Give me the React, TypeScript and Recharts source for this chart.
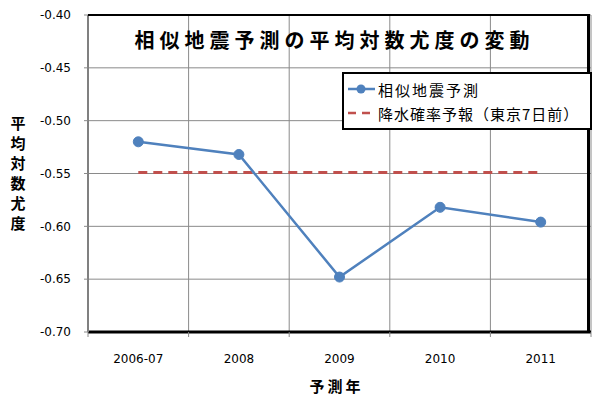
import React from "react";
import {
  LineChart,
  Line,
  XAxis,
  YAxis,
  CartesianGrid,
} from "recharts";

const years = ["2006-07", "2008", "2009", "2010", "2011"];
const similarQuake = [-0.52, -0.532, -0.648, -0.582, -0.596];
const rainForecast = [-0.549, -0.549, -0.549, -0.549, -0.549];
const yTicks = [-0.7, -0.65, -0.6, -0.55, -0.5, -0.45, -0.4];

const seriesNames = ["相似地震予測", "降水確率予報（東京7日前）"];
const title = "相似地震予測の平均対数尤度の変動";
const yLabel = "平均対数尤度";
const xLabel = "予測年";

const data = years.map((y, i) => ({
  year: y,
  quake: similarQuake[i],
  rain: rainForecast[i],
}));

const BLUE = "#4F81BD";
const RED = "#C0504D";
const GRID = "#8a8a8a";
const CJK = "'Noto Sans CJK JP', sans-serif";
const NUM = "'DejaVu Sans', sans-serif";

// plot area: 88..591 x 15..332
const PLOT_W = 503;
const HALF = PLOT_W / 10;

function XTick(props: any) {
  const { x, y, payload, index } = props;
  return (
    <g>
      <line x1={x - HALF} x2={x - HALF} y1={y} y2={y + 5} stroke={GRID} />
      {index === years.length - 1 && (
        <line x1={x + HALF} x2={x + HALF} y1={y} y2={y + 5} stroke={GRID} />
      )}
      <text x={x} y={y + 31} textAnchor="middle" fontSize={12} fontFamily={NUM} fill="#000">
        {payload.value}
      </text>
    </g>
  );
}

function YLabel(props: any) {
  const vb = props.viewBox || { x: 0, y: 15, width: 88, height: 317 };
  const chars = yLabel.split("");
  const cy = vb.y + vb.height / 2;
  const step = 20;
  const start = cy - ((chars.length - 1) * step) / 2;
  return (
    <text fontSize={15} fontWeight="bold" fontFamily={CJK} fill="#000" textAnchor="middle">
      {chars.map((c, i) => (
        <tspan key={i} x={18} y={start + i * step + 5}>
          {c}
        </tspan>
      ))}
    </text>
  );
}

function XLabel(props: any) {
  const vb = props.viewBox || { x: 88, y: 332, width: 503 };
  return (
    <text
      x={vb.x + vb.width / 2 - 3}
      y={392}
      textAnchor="middle"
      fontSize={15}
      fontWeight="bold"
      fontFamily={CJK}
      letterSpacing={3}
      fill="#000"
    >
      {xLabel}
    </text>
  );
}

function LegendBox() {
  return (
    <div
      style={{
        position: "absolute",
        top: 72,
        left: 342,
        width: 250,
        height: 58,
        border: "2px solid #000",
        background: "#fff",
        fontFamily: CJK,
        fontSize: 15,
        color: "#000",
        boxSizing: "border-box",
        padding: "3px 0 0 4px",
      }}
    >
      <div style={{ display: "flex", alignItems: "center", height: 24 }}>
        <svg width={28} height={12}>
          <line x1={0} x2={27} y1={6} y2={6} stroke={BLUE} strokeWidth={2.5} />
          <circle cx={13} cy={6} r={4.5} fill={BLUE} />
        </svg>
        <span style={{ letterSpacing: 2, marginLeft: 2 }}>{seriesNames[0]}</span>
      </div>
      <div style={{ display: "flex", alignItems: "center", height: 24 }}>
        <svg width={28} height={12}>
          <line x1={0} x2={27} y1={6} y2={6} stroke={RED} strokeWidth={2.5} strokeDasharray="8 6" />
        </svg>
        <span style={{ letterSpacing: 1, marginLeft: 2 }}>{seriesNames[1]}</span>
      </div>
    </div>
  );
}

export default function App() {
  return (
    <div style={{ position: "absolute", left: 0, top: 0, width: 600, height: 399, background: "#fff" }}>
      <LineChart
        width={600}
        height={399}
        data={data}
        margin={{ top: 15, right: 9, bottom: 7, left: 0 }}
      >
        <CartesianGrid
          stroke={GRID}
          strokeWidth={1}
          verticalCoordinatesGenerator={({ offset }: any) =>
            [0, 1, 2, 3, 4, 5].map((i) => offset.left + (i * offset.width) / 5)
          }
        />
        <XAxis
          dataKey="year"
          height={60}
          padding={{ left: HALF, right: HALF }}
          tickLine={false}
          tickSize={0}
          tickMargin={0}
          axisLine={{ stroke: "#000", strokeWidth: 3 }}
          tick={<XTick />}
          interval={0}
          label={<XLabel />}
        />
        <YAxis
          width={88}
          domain={[-0.7, -0.4]}
          ticks={yTicks}
          tickFormatter={(v: number) => v.toFixed(2)}
          tick={{ fontSize: 12, fontFamily: NUM, fill: "#000" }}
          tickLine={{ stroke: GRID }}
          tickSize={4}
          tickMargin={13}
          axisLine={{ stroke: "#808080", strokeWidth: 2 }}
          label={<YLabel />}
          allowDataOverflow
        />
        <Line
          dataKey="rain"
          stroke={RED}
          strokeWidth={3}
          strokeDasharray="9 6"
          dot={false}
          isAnimationActive={false}
        />
        <Line
          dataKey="quake"
          stroke={BLUE}
          strokeWidth={2.5}
          dot={{ r: 5, fill: BLUE, stroke: BLUE, strokeWidth: 1 }}
          isAnimationActive={false}
        />
      </LineChart>
      {/* plot area frame: black top and right edge */}
      <div
        style={{
          position: "absolute",
          left: 88,
          top: 14,
          width: 502,
          height: 318,
          borderTop: "2px solid #000",
          borderRight: "3px solid #000",
          boxSizing: "border-box",
          pointerEvents: "none",
        }}
      />
      <LegendBox />
      <div
        style={{
          position: "absolute",
          left: 88,
          width: 493,
          top: 27,
          textAlign: "center",
          fontFamily: CJK,
          fontSize: 20,
          fontWeight: "bold",
          letterSpacing: 5,
          lineHeight: "26px",
          color: "#000",
          pointerEvents: "none",
        }}
      >
        {title}
      </div>
    </div>
  );
}
